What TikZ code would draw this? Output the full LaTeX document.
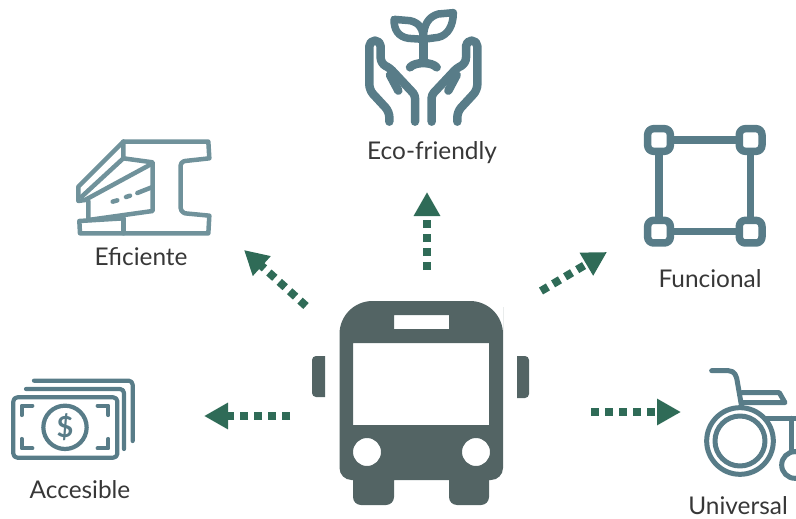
\documentclass[tikz,border=0pt]{standalone}
\usepackage{fontspec}
\setmainfont{Lato}
\usetikzlibrary{arrows.meta}
\definecolor{busgray}{RGB}{83, 100, 100}
\definecolor{icon25}{RGB}{88, 124, 136}
\definecolor{beam25}{RGB}{112, 146, 155}
\definecolor{arrow25}{RGB}{47, 107, 87}
\definecolor{text25}{RGB}{55, 55, 55}
\begin{document}
\begin{tikzpicture}[
    x=1pt,
    y=-1pt,
    block_label/.style={
      text=text25,
      font=\fontsize{24.4}{28}\selectfont,
      inner sep=0,
      align=center
    },
    line_icon/.style={
      draw=icon25,
      line width=5pt,
      line cap=round,
      line join=round
    },
    line_arrow/.style={
      draw=arrow25,
      line width=8pt,
      dash pattern=on 8pt off 6pt,
      -{Triangle[length=24pt,width=25pt,fill=arrow25]}
    }
  ]
  \clip (0,0) rectangle (796,519);

  % Bus
  \fill[busgray, even odd rule] (339.5,340) [rounded corners=33] -- (339.5,301) -- (503,301) -- (503,340)
    [rounded corners=12] -- (503,480) [sharp corners] -- (489,480) [rounded corners=8] -- (489,505) -- (449,505) [sharp corners] -- (449,480)
    -- (394,480) [rounded corners=8] -- (394,505) -- (353,505) [sharp corners] -- (353,480)
    [rounded corners=12] -- (339.5,480) [sharp corners] -- cycle
    (394,315) rectangle (449,329)
    (353,343) rectangle (489,425)
    (367,452) circle (14)
    (476,452) circle (14);
  \fill[busgray] (325,356) [rounded corners=4] -- (312,356) -- (312,397) [sharp corners] -- (325,397) -- cycle;
  \fill[busgray] (517,356) [rounded corners=4] -- (529,356) -- (529,398) [sharp corners] -- (517,398) -- cycle;

  % Eco-friendly icon
  \begin{scope}[shift={(340,0)}, scale=1/3, line_icon, line width=8.5pt]
    \draw[rounded corners=5.5pt] (148,365) -- (148,335) -- (88,270) -- (88,122) -- (122,122) -- (122,190) [rounded corners=3pt] -- (150,205) -- (225,285) -- (225,365);
    \draw (150,225) -- (175,272);
    \draw[rounded corners=5.5pt] (352,365) -- (352,335) -- (412,270) -- (412,122) -- (378,122) -- (378,190) [rounded corners=3pt] -- (350,205) -- (275,285) -- (275,365);
    \draw (350,225) -- (325,272);
    \draw (250,110) -- (250,185);
    \draw (210,202) .. controls (225,185) and (275,185) .. (290,202);
    \draw[line width=7.5pt] (162,58) -- (210,62) .. controls (240,68) and (250,90) .. (250,118) -- (205,115) .. controls (175,110) and (162,90) .. cycle;
    \draw[line width=7.5pt] (340,38) -- (295,42) .. controls (265,50) and (250,75) .. (250,118) -- (295,112) .. controls (325,105) and (340,75) .. cycle;
  \end{scope}

  % Eficiente icon
  \begin{scope}[shift={(60,125)}, scale=1/3, line_icon, draw=beam25, line width=4.5pt]
    \draw (190,50) -- (445,50) -- (448,100) -- (375,108) [rounded corners=3pt] -- (362,112) -- (362,258) [sharp corners] -- (375,265) -- (448,272) -- (445,325) -- (60,325) -- (58,288) -- (190,280);
    \draw (190,50) -- (55,185) -- (55,228) -- (75,225);
    \draw (190,50) -- (190,100) -- (278,112) -- (278,258) -- (85,285) -- (85,228);
    \draw (65,215) -- (190,100);
    \draw (75,225) -- (278,115);
    \draw (190,280) -- (190,325);
    \draw (158,230) -- (172,226) (198,216) -- (210,212) (232,204) -- (275,187);
  \end{scope}

  % Accesible icon
  \begin{scope}[shift={(0,365)}, scale=1/3, line_icon, line width=4.2pt]
    \draw[rounded corners=4pt] (40,97) rectangle (352,278);
    \draw[rounded corners=4pt] (78,72) -- (372,72) -- (372,252);
    \draw[rounded corners=4pt] (102,47) -- (398,47) -- (398,228);
    \draw (65,150) -- (65,122) -- (97,122);
    \draw (293,122) -- (325,122) -- (325,150);
    \draw (65,222) -- (65,250) -- (97,250);
    \draw (293,250) -- (325,250) -- (325,222);
    \draw (195,187) circle (65);
    \node[text=icon25, font=\fontsize{29}{32}\selectfont\bfseries, inner sep=0] (dollar) at (195,187) {\$};
  \end{scope}

  % Funcional icon
  \begin{scope}[shift={(530,120)}, scale=1/3, line_icon, line width=7.5pt]
    \draw (387,60) -- (662,60) -- (662,335) -- (387,335) -- cycle;
    \foreach \cornerx/\cornery in {387/60, 662/60, 387/335, 662/335} {
      \draw[rounded corners=6pt, fill=white] (\cornerx-34,\cornery-34) rectangle (\cornerx+34,\cornery+34);
    }
  \end{scope}

  % Universal icon
  \begin{scope}[shift={(680,360)}, scale=1/3, line_icon]
    \draw (95,32) -- (145,32) .. controls (165,32) and (170,50) .. (172,65) -- (185,140);
    \draw (185,98) -- (298,98) -- (315,128) -- (185,128);
    \draw (180,243) circle (100);
    \draw (180,243) circle (75);
    \draw (255,175) -- (352,175);
    \draw (335,175) -- (335,272);
    \draw (345,315) circle (40);
  \end{scope}

  % Nodes
  \node [block_label] (eco) at (432,153) {Eco-friendly};
  \node [block_label] (eficiente) at (141,257) {Eficiente};
  \node [block_label] (funcional) at (710,279) {Funcional};
  \node [block_label] (accesible) at (80,490) {Accesible};
  \node [block_label] (universal) at (738,506) {Universal};

  \coordinate (ecofrom) at (427,270);
  \coordinate (ecoto) at (427,192);
  \coordinate (eficientefrom) at (306,306);
  \coordinate (eficienteto) at (244,250);
  \coordinate (funcionalfrom) at (541,291);
  \coordinate (funcionalto) at (607,252);
  \coordinate (accesiblefrom) at (290,416);
  \coordinate (accesibleto) at (204,416);
  \coordinate (universalfrom) at (591,412);
  \coordinate (universalto) at (681,412);

  % Arrows
  \draw[line_arrow] (ecofrom) -- (ecoto);
  \draw[line_arrow] (eficientefrom) -- (eficienteto);
  \draw[line_arrow] (funcionalfrom) -- (funcionalto);
  \draw[line_arrow] (accesiblefrom) -- (accesibleto);
  \draw[line_arrow] (universalfrom) -- (universalto);

\end{tikzpicture}
\end{document}
